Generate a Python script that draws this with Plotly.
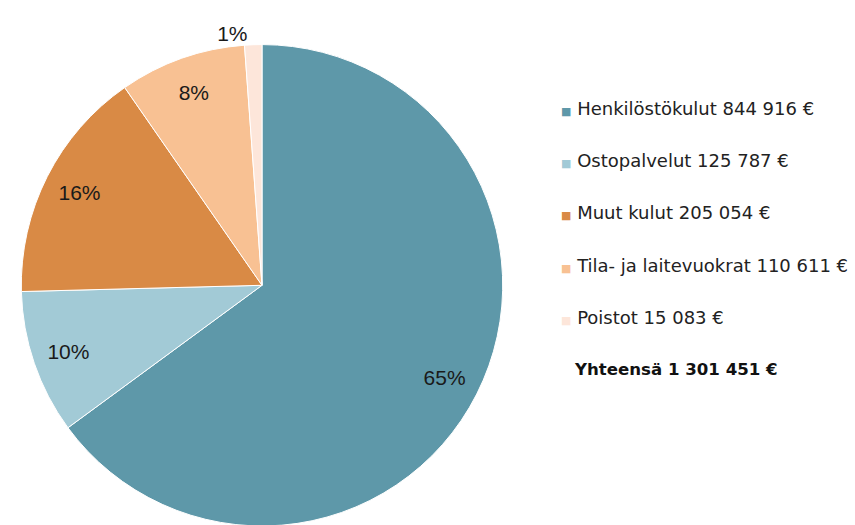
import plotly.graph_objects as go

categories = ["Henkilöstökulut", "Ostopalvelut", "Muut kulut", "Tila- ja laitevuokrat", "Poistot"]
values = [844916, 125787, 205054, 110611, 15083]
colors = ["#5E98A9", "#A2CAD6", "#D98A45", "#F8C193", "#FDE6DA"]
total_label = "Yhteensä"

def fmt(v):
    return f"{v:,}".replace(",", " ")

W, H = 855, 531  # page is a few px taller than the window; bottom is clipped like the reference
domain = dict(x=[16 / W, 508 / W], y=[0, 486 / H])
textpos = ["inside", "inside", "inside", "inside", "outside"]
pct_font = dict(family="Liberation Sans", size=21, color="#1a1a1a")

fig = go.Figure()
# filled pie
fig.add_trace(go.Pie(
    labels=categories, values=values, sort=False,
    direction="clockwise", rotation=0,
    marker=dict(colors=colors, line=dict(color="white", width=1)),
    textinfo="none",
    showlegend=False, domain=domain,
    hoverinfo="label+value+percent",
))
# transparent ring overlay carrying the percentage labels near the rim
fig.add_trace(go.Pie(
    labels=categories, values=values, sort=False,
    direction="clockwise", rotation=0, hole=0.7,
    marker=dict(colors=["rgba(0,0,0,0)"] * len(values), line=dict(width=0)),
    texttemplate="%{percent:.0%}",
    textposition=textpos,
    insidetextorientation="horizontal",
    textfont=pct_font,
    showlegend=False, domain=domain,
    hoverinfo="skip",
))

legend_y = [110, 162, 215, 268, 321]
for cat, val, col, yy in zip(categories, values, colors, legend_y):
    fig.add_annotation(
        x=559 / W, y=1 - yy / H, xref="paper", yref="paper",
        xanchor="left", yanchor="middle", showarrow=False,
        text=f"<span style='color:{col};font-size:11px'>■</span> {cat} {fmt(val)} €",
        font=dict(family="DejaVu Sans", size=18, color="#222222"),
    )
fig.add_annotation(
    x=572 / W, y=1 - 373 / H, xref="paper", yref="paper",
    xanchor="left", yanchor="middle", showarrow=False,
    text=f"<b>{total_label} {fmt(sum(values))} €</b>",
    font=dict(family="DejaVu Sans", size=16.6, color="#111111"),
)

fig.update_layout(
    width=W, height=H,
    margin=dict(l=0, r=0, t=0, b=0),
    paper_bgcolor="white", plot_bgcolor="white",
)
fig.write_html("out.html", config={"displayModeBar": False},
               post_script="document.body.style.margin='0';document.body.style.overflow='hidden';")
